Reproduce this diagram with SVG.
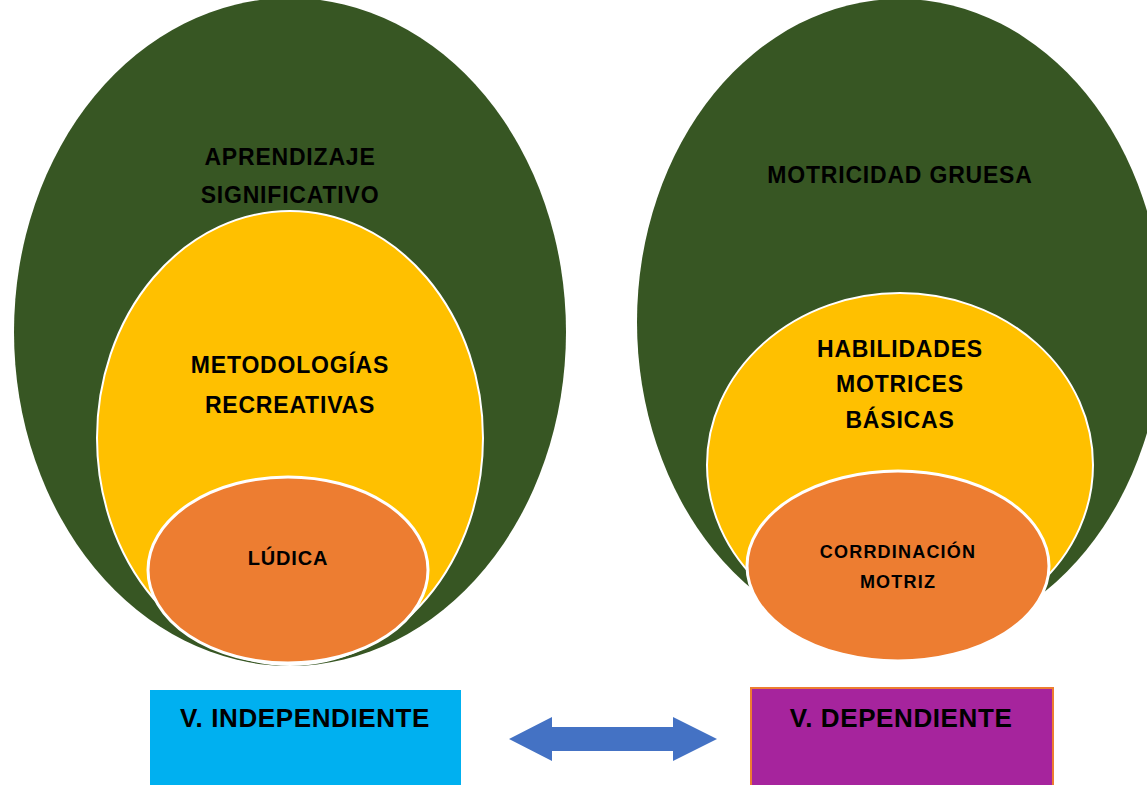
<svg xmlns="http://www.w3.org/2000/svg" width="1147" height="785" viewBox="0 0 1147 785">
<style>
.t{font-family:"Liberation Sans",Arial,sans-serif;font-weight:bold;fill:#000;text-anchor:middle}
.big{font-size:23px;letter-spacing:0.8px}
.green{fill:#375623}
.yellow{fill:#FFC000;stroke:#fff;stroke-width:2}
.orange{fill:#ED7D31;stroke:#fff;stroke-width:3}
</style>
<rect width="1147" height="785" fill="#fff"/>
<g id="left-set">
  <g id="aprendizaje">
    <ellipse class="green" cx="290" cy="332" rx="276" ry="334"/>
    <text class="t big" x="290" y="165">APRENDIZAJE</text>
    <text class="t big" x="290" y="203">SIGNIFICATIVO</text>
  </g>
  <g id="metodologias">
    <ellipse class="yellow" cx="290" cy="438" rx="193" ry="227"/>
    <text class="t big" x="290" y="373">METODOLOGÍAS</text>
    <text class="t big" x="290" y="413">RECREATIVAS</text>
  </g>
  <g id="ludica">
    <ellipse class="orange" cx="288" cy="570" rx="140" ry="93"/>
    <text class="t" x="288" y="565" font-size="20" letter-spacing="0.8">LÚDICA</text>
  </g>
</g>
<g id="right-set">
  <g id="motricidad">
    <ellipse class="green" cx="900" cy="322" rx="263" ry="323"/>
    <text class="t big" x="900" y="183">MOTRICIDAD GRUESA</text>
  </g>
  <g id="habilidades">
    <ellipse class="yellow" cx="900" cy="465" rx="193" ry="172"/>
    <text class="t big" x="900" y="357">HABILIDADES</text>
    <text class="t big" x="900" y="392">MOTRICES</text>
    <text class="t big" x="900" y="428">BÁSICAS</text>
  </g>
  <g id="coordinacion">
    <ellipse class="orange" cx="898" cy="566" rx="151" ry="95"/>
    <text class="t" x="898" y="558" font-size="18" letter-spacing="1.2">CORRDINACIÓN</text>
    <text class="t" x="898" y="588" font-size="18" letter-spacing="1.2">MOTRIZ</text>
  </g>
</g>
<g id="v-independiente">
  <rect x="150" y="690" width="311" height="96" fill="#00B0F0"/>
  <text class="t" x="305" y="727" font-size="26" letter-spacing="0.6">V. INDEPENDIENTE</text>
</g>
<g id="v-dependiente">
  <rect x="751" y="688" width="302" height="98" fill="#A6249D" stroke="#ED7D31" stroke-width="2"/>
  <text class="t" x="901" y="727" font-size="26" letter-spacing="0.6">V. DEPENDIENTE</text>
</g>
<g id="connectors">
  <polygon fill="#4472C4" points="509,739 552,717 552,727 673,727 673,717 717,739 673,761 673,751 552,751 552,761"/>
</g>
</svg>
